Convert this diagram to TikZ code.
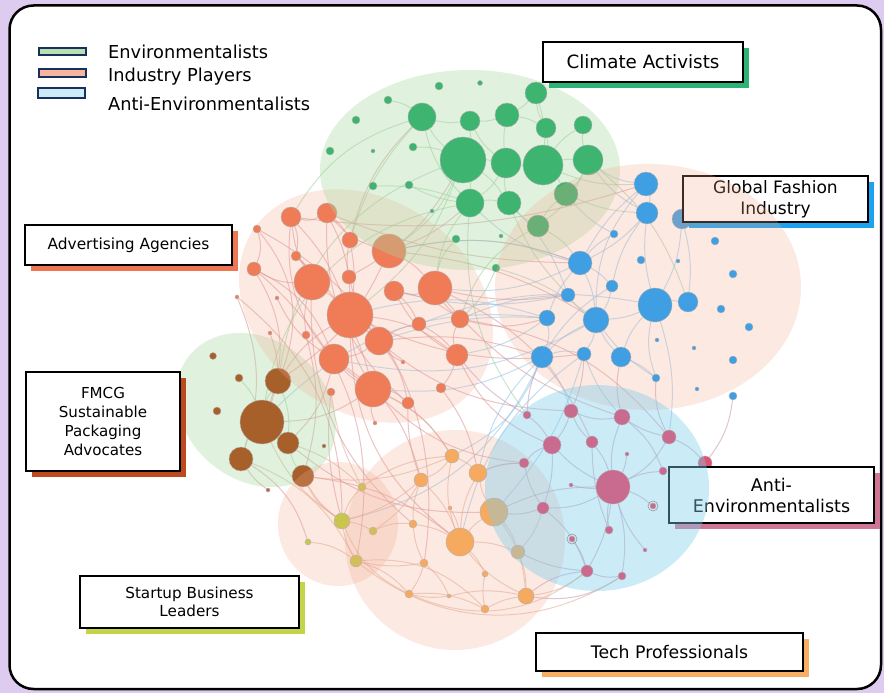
\documentclass[tikz,border=0pt]{standalone}
\usepackage{fontspec}
\setmainfont{DejaVu Sans}
\pgfdeclarelayer{bg}
\pgfdeclarelayer{edgelayer}
\pgfsetlayers{bg,edgelayer,main}
\definecolor{lav}{HTML}{DDCBF0}
\definecolor{cC}{HTML}{3DB46F}
\definecolor{aC}{HTML}{EF7B57}
\definecolor{fC}{HTML}{A8602B}
\definecolor{bC}{HTML}{3F9FE2}
\definecolor{eC}{HTML}{C96A8F}
\definecolor{e8C}{HTML}{DC5470}
\definecolor{tC}{HTML}{F6AA60}
\definecolor{sC}{HTML}{C8C64C}
\definecolor{gBlob}{HTML}{A8D8A0}
\definecolor{pBlob}{HTML}{F4A88E}
\definecolor{bBlob}{HTML}{7FCDEB}
\definecolor{reC}{HTML}{D9898C}
\definecolor{peC}{HTML}{C08AAE}
\definecolor{geC}{HTML}{94CC98}
\definecolor{beC}{HTML}{86BFE6}
\definecolor{oeC}{HTML}{DDA58A}
\definecolor{navy}{HTML}{17305C}
\definecolor{shClim}{HTML}{2DB277}
\definecolor{shFash}{HTML}{1CA2EF}
\definecolor{shAdv}{HTML}{EE7652}
\definecolor{shFmcg}{HTML}{BD4A1F}
\definecolor{shStart}{HTML}{C3D448}
\definecolor{shAnti}{HTML}{CF7596}
\definecolor{shTech}{HTML}{F8AE62}
\newcommand\drawnodes[2]{\foreach \n/\x/\y/\r in {#2}
  \node[nd, fill=#1, minimum size={2*\r}] (\n) at (\x,\y) {};}
\newcommand\drawedges[2]{\foreach \u/\v/\b in {#2}
  \draw[edg, draw=#1] (\u) to[bend left=\b] (\v);}
\newcommand\lblbox[8]{%
  \node[shadbox, fill=#6, minimum width=#4, minimum height=#5] (#1s) at (#2+6,#3+6) {};
  \node[lblbox, minimum width=#4, minimum height=#5, font=#7] (#1) at (#2,#3) {#8};}
\begin{document}
\begin{tikzpicture}[x=1pt,y=-1pt,
  nd/.style={circle, inner sep=0pt, draw=black!30, line width=0.4pt},
  edg/.style={line width=1pt, opacity=0.5},
  gblob/.style={fill=gBlob, fill opacity=0.35},
  pblob/.style={fill=pBlob, fill opacity=0.25},
  bblob/.style={fill=bBlob, fill opacity=0.4},
  shadbox/.style={rectangle, inner sep=0pt, draw=none},
  lblbox/.style={rectangle, inner sep=0pt, draw=black, line width=2.2pt, fill=white, align=center, text=black},
  swatch/.style={draw=navy, line width=2pt},
  legtxt/.style={anchor=west, inner sep=0pt, font=\fontsize{17.8}{20}\selectfont, text=black}]
\useasboundingbox (0,0) rectangle (884,693);
\begin{pgfonlayer}{bg}
\fill[lav] (0,0) rectangle (884,693);
\draw[line width=2.5pt, fill=white, rounded corners=24pt] (9.5,5.5) rectangle (881,689);
\end{pgfonlayer}

% legend
\draw[swatch, fill=gBlob!80!white] (39,48) rectangle (86,55);
\draw[swatch, fill=pBlob!85!white] (39,69) rectangle (86,77);
\draw[swatch, fill=bBlob!40!white] (38,88) rectangle (85,98);
\node[legtxt] (leg1) at (108,52) {Environmentalists};
\node[legtxt] (leg2) at (108,77) {Industry Players};
\node[legtxt] (leg3) at (108,104) {Anti-Environmentalists};

% FMCG cluster
\fill[gblob, shift={(256,410)}, rotate=-40] (0,0) ellipse [x radius=86, y radius=70];
\drawnodes{fC}{f1/213/356/3.5, f2/239/378/4, f3/278/381/13, f4/217/411/4, f5/262/422/22, f6/288/443/11, f7/241/459/12, f8/303/476/11, f9/324/446/2}
\node[nd, fill=aC!80!black, minimum size=4] (f10) at (268,490) {};

% Advertising cluster
\fill[pblob, shift={(366,306)}, rotate=-35] (0,0) ellipse [x radius=136, y radius=106];
\drawnodes{aC}{a1/291/217/10, a2/327/213/10, a3/257/229/4, a4/350/240/8, a5/389/251/17, a6/296/256/5, a7/254/269/7, a8/312/282/18, a9/349/277/7, a10/394/291/10, a11/435/288/17, a12/350/315/23, a13/237/297/2, a14/277/298/2, a15/419/324/7, a16/460/319/9, a17/306/335/4, a18/379/341/14, a19/270/333/2, a20/334/359/15, a21/457/355/11, a22/403/362/2, a23/373/389/18, a24/331/392/4, a25/441/388/5, a26/408/403/6, a27/375/423/2}

% Climate cluster
\fill[gblob] (470,170) ellipse [x radius=150, y radius=100];
\drawnodes{cC}{c1/536/93/11, c2/422/117/14, c3/470/121/10, c4/507/115/12, c5/546/128/10, c6/583/125/9, c7/463/160/23, c8/506/163/15, c9/543/165/20, c10/588/160/15, c11/566/194/12, c12/470/203/14, c13/509/203/12, c14/538/226/11, c15/439/86/4, c16/480/83/2.5, c17/388/100/4, c18/356/120/4, c19/330/151/4, c20/373/151/2, c21/413/147/4, c22/373/186/4, c23/409/185/4, c24/432/211/2, c25/456/239/4, c26/501/236/2, c27/496/268/4}

% Startup cluster
\fill[pblob] (338,524) ellipse [x radius=60, y radius=62];
\drawnodes{sC}{s1/362/487/4, s2/342/521/8, s3/373/531/4, s4/308/542/3, s5/356/561/6}

% Tech cluster
\fill[pblob] (455,540) circle (110);
\drawnodes{tC}{t1/452/456/7, t2/478/473/9, t3/421/480/7, t4/450/508/2, t5/494/512/14, t6/413/524/4, t7/460/542/14, t8/518/552/7, t9/424/563/4, t10/485/574/3, t11/409/594/4, t12/449/596/2, t13/526/596/8, t14/485/609/4}

% Fashion cluster
\drawnodes{bC}{b3/682/219/10}
\lblbox{fash}{775.5}{199}{185}{46}{shFash}{\fontsize{17.1}{21}\selectfont}{Global Fashion\\Industry}
\fill[pblob] (648,287) ellipse [x radius=153, y radius=123];
\drawnodes{bC}{b1/646/184/12, b2/647/213/11, b4/614/234/4, b5/715/241/4, b6/580/263/12, b7/641/260/4, b8/678/261/2, b9/733/274/4, b10/612/286/6, b11/568/295/7, b12/655/305/17, b13/688/302/10, b14/721/309/4, b15/749/327/4, b16/547/318/8, b17/596/320/13, b18/657/340/2, b19/694/348/2, b20/733/360/4, b21/542/357/11, b22/584/354/7, b23/621/357/10, b24/656/378/4, b25/697/389/2, b26/733/396/4}

% Anti-environmentalists cluster
\drawnodes{e8C}{e8/705/463/7}
\lblbox{anti}{771.5}{495}{205}{56}{shAnti}{\fontsize{17.5}{21}\selectfont}{Anti-\\Environmentalists}
\fill[bblob] (597,488) ellipse [x radius=112, y radius=103];
\drawnodes{eC}{e1/527/415/4, e2/571/411/7, e3/622/417/8, e4/669/437/7, e5/552/445/9, e6/592/442/6, e7/627/454/2, e9/524/463/5, e10/663/471/4, e11/613/487/17, e12/571/485/2, e13/653/506/3, e14/543/508/6, e15/609/530/4, e16/572/539/3, e17/645/550/2, e18/587/571/6, e19/622/576/4}
\draw[black!40, line width=0.6pt] (e13) circle (5);
\draw[black!40, line width=0.6pt] (e16) circle (5);

% edges
\begin{pgfonlayer}{edgelayer}
\drawedges{reC}{a1/a12/10, a1/a8/-10, a2/a12/12, a2/a5/-15, a4/a12/8, a5/a11/10, a6/a23/15, a7/a20/20, a7/f5/25, a3/f3/30, a8/a12/5, a9/a18/-10, a10/a16/12, a11/a16/-8, a12/a18/10, a12/a23/-12, a12/a21/15, a13/f7/20, a14/a20/-15, a15/a21/10, a16/b16/-15, a18/a26/12, a20/a23/-10, a20/f6/15, a21/e5/-20, a23/t1/15, a24/s2/-10, a25/t2/12, a26/t3/-10, a17/f8/15, a12/e2/-20, a18/b21/12, a23/e9/-18, a5/b6/15, a11/b11/-10, f5/a23/-15, f3/a12/12, f6/t5/-20, f8/t7/15, a2/a4/10, a1/a6/15, a8/a17/-10, a19/f5/20, a10/a15/10, a4/a9/-10, a11/a10/15, a5/c12/-10, a3/a7/20, a1/a2/-20, a6/a8/10, a7/a8/-15, a10/a21/-15, a18/a20/12, a15/a18/-10, a21/a25/10, a16/a21/-20, a23/a26/15, a12/t7/-25, a20/t3/20, a8/t6/-25, f3/a5/-15, f7/s4/20, a1/a23/-30, a2/a26/-25, a7/s5/30, a13/s2/25, a3/t9/35, a12/b22/-15, a11/e6/20, a4/c2/15, a9/c7/-15, f10/f7/10, a27/a23/10, a22/a18/10, a1/b1/-12, a2/b6/-10, a5/b17/12, a11/e3/-15, a16/e4/20}
\drawedges{peC}{e2/e5/10, e5/e11/-10, e6/e11/10, e3/e11/-12, e4/e11/15, e11/e18/10, e9/e14/-10, e14/e18/15, e3/e4/-10, e11/e13/10, e2/e6/-12, e1/e5/10, e3/e10/15, e6/e15/-10, e18/e19/-15, t5/e11/12, t8/e18/-10, e1/b21/10, e2/b22/-10, e3/b23/12, e5/e14/10, e11/e15/-10, e4/e8/12, e10/e11/-10, e11/e19/12, e2/e3/-15, e9/e5/15, e14/e11/-15, e16/e18/10, e12/e11/-8, e4/b24/15, e8/b26/-15, e1/a21/10, e9/t2/-10, e14/t5/12, e18/t13/-15, e19/t13/20, e17/e11/10, e7/e11/10}
\drawedges{geC}{c1/c9/10, c2/c7/-10, c3/c7/10, c4/c8/-8, c5/c9/10, c6/c10/-10, c7/c8/5, c8/c9/-5, c9/c10/8, c7/c12/10, c8/c13/-10, c9/c11/10, c11/c14/-10, c12/c13/10, c2/c12/-15, c1/c5/-12, c10/c11/12, c4/c5/10, c3/c4/-10, c7/a5/15, c12/a11/-15, c14/b6/12, c13/b11/-10, c21/c7/10, c23/c12/-10, c17/c2/12, c11/b2/-10, c2/a1/-20, c7/a12/15, c9/b1/-12, c1/c4/10, c6/c9/-10, c10/c14/15, c2/c3/-10, c8/c12/12, c13/c14/-10, c7/c13/10, c3/c8/-12, c22/c12/10, c25/a11/-15, c27/a16/12, c14/a16/-20, c12/f5/-35, c7/f3/-30, c10/b13/15, c27/b17/10, f5/f3/10, f5/f7/-10, f5/f6/10, f6/f8/-10, f2/f5/10, f3/f6/12, c2/a4/-12, c12/e1/-20}
\drawedges{beC}{b1/b6/-10, b2/b6/10, b1/b2/15, b2/b12/-10, b6/b17/10, b6/b16/-10, b10/b17/12, b11/b17/-10, b12/b17/10, b12/b23/-12, b12/b13/10, b16/b21/15, b17/b21/-10, b17/b22/12, b17/b23/-10, b21/e2/10, b22/e3/-10, b6/a11/15, b11/a16/-10, b16/a21/12, b21/t2/-15, b22/t5/12, b3/b13/10, b4/b6/-10, b1/c10/15, b10/b21/-12, b23/b24/10, b21/a23/15, b16/a12/-15, b12/e4/12, b2/b10/-12, b6/b10/10, b12/b24/-15, b3/b12/12, b17/b24/-10, b21/b22/15, b1/b17/-20, b6/a5/-15, b11/a10/12, b16/a18/-10, b21/t1/20, b22/t7/-20, b6/c12/15, b11/c13/-12, b4/c11/10, b2/c10/12, b21/s2/25, b16/f5/-25, b17/a20/20, b12/a15/-15}
\drawedges{oeC}{t1/t2/10, t2/t5/-10, t3/t7/12, t5/t7/-10, t7/t8/10, t7/t13/-12, t5/t8/12, t3/t6/-10, t9/t11/10, t11/t12/-10, t12/t13/12, t13/t14/-10, t8/t13/10, t1/a23/-15, t3/s2/12, s2/s5/-10, s2/s3/10, s1/s2/-12, s4/s5/15, s5/t9/-10, s2/f8/12, s5/t11/15, t2/e9/10, t8/e14/-12, s1/a24/10, f8/s2/-15, f6/s1/12, t13/e18/-15, t1/t3/15, t6/t9/-10, t9/t12/12, t14/t11/-15, t7/t10/10, t10/t14/-10, s3/t6/15, s5/t14/25, s2/t11/-20, t5/t13/15, t1/t7/-15, s3/t3/-12, f7/s5/20, f5/s2/-15, t6/t7/10, t2/t7/-12, f8/t1/-15, s1/t1/15, t11/e18/-30, s5/e19/-35, t4/t7/10}
\end{pgfonlayer}

% labels
\lblbox{clim}{643}{62}{200}{40}{shClim}{\fontsize{18.3}{21}\selectfont}{Climate Activists}
\lblbox{adv}{128.5}{245}{207}{40}{shAdv}{\fontsize{15.4}{18}\selectfont}{Advertising Agencies}
\lblbox{fmcg}{103}{421.5}{154}{99}{shFmcg}{\fontsize{15.1}{19.3}\selectfont}{FMCG\\Sustainable\\Packaging\\Advocates}
\lblbox{start}{189.5}{602}{219}{52}{shStart}{\fontsize{15.2}{18}\selectfont}{Startup Business\\Leaders}
\lblbox{tech}{669.5}{652}{267}{38}{shTech}{\fontsize{17.3}{20}\selectfont}{Tech Professionals}
\end{tikzpicture}
\end{document}
